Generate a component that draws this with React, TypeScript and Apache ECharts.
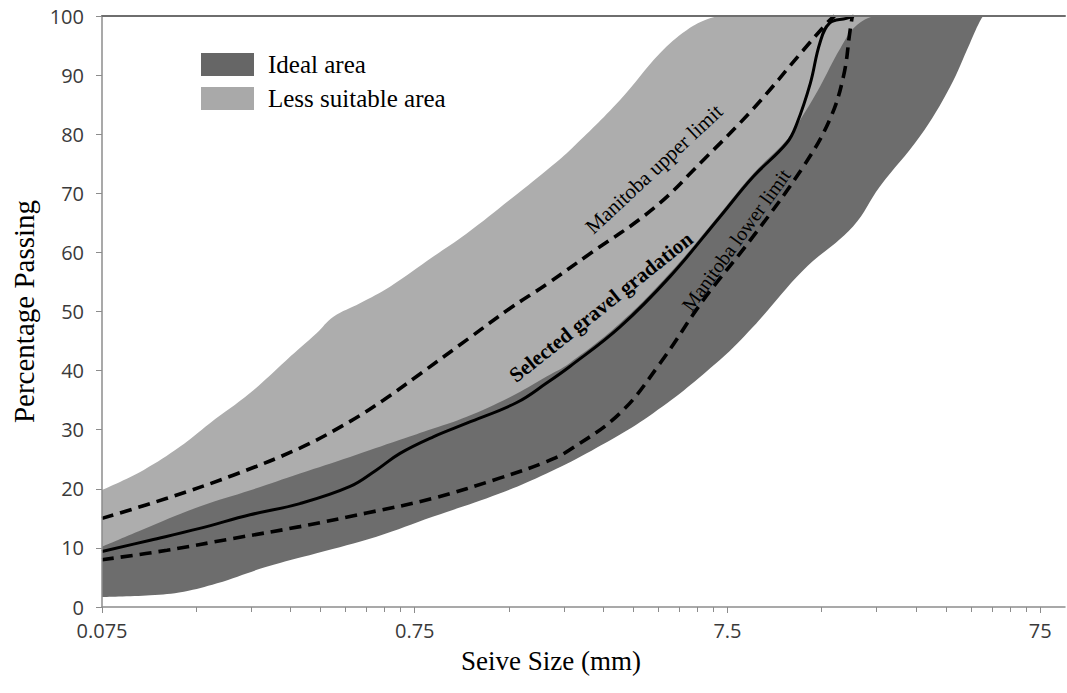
import React, { useEffect, useRef } from 'react';
import * as echarts from 'echarts';

const X_MIN = 0.075;
const X_MAX = 90;
const majorTicks = [0.075, 0.75, 7.5, 75];
const minorFactors = [2, 3, 4, 5, 6, 7, 8, 9];

// Less suitable area (upper boundary of the light band)
const lessSuitableX = [0.075, 0.102, 0.133, 0.166, 0.223, 0.292, 0.364, 0.412, 0.501, 0.625, 0.86, 1.1, 1.51, 1.98, 2.35, 3.4, 4.56, 5.55, 6.59, 7.3, 90];
const lessSuitableY = [19.8, 23.2, 27.1, 31.1, 36.2, 41.8, 46.3, 49.1, 51.4, 54.2, 59.3, 63.2, 68.9, 73.9, 77.3, 85.8, 93.7, 97.6, 99.6, 100, 100];

// Ideal area: upper boundary
const idealTopX = [0.075, 0.1, 0.154, 0.225, 0.322, 0.466, 0.673, 0.86, 1.1, 1.51, 1.98, 2.35, 3.4, 4.91, 7.09, 9.06, 11.6, 12.8, 14.8, 17.2, 19.5, 23, 90];
const idealTopY = [10.2, 13.0, 17.0, 19.8, 22.6, 25.4, 28.3, 30.2, 32.2, 35.5, 39.0, 41.3, 48.0, 56.5, 66.5, 73.3, 79.0, 82.4, 88.0, 94.5, 98.5, 100, 100];

// Ideal area: lower boundary
const idealBottomX = [0.075, 0.107, 0.137, 0.175, 0.252, 0.364, 0.566, 0.86, 1.4, 1.98, 2.66, 4.34, 7.09, 9.06, 13.1, 18.9, 23.0, 30.9, 38.6, 44.7, 48.7, 50, 90];
const idealBottomY = [1.7, 2.0, 2.6, 4.0, 6.8, 9.1, 11.9, 15.3, 19.2, 22.6, 26.0, 32.8, 41.8, 47.4, 57.0, 64.4, 71.1, 79.6, 88.0, 95.4, 99.6, 100, 100];

// Selected gravel gradation
const selectedX = [0.075, 0.107, 0.154, 0.223, 0.322, 0.466, 0.566, 0.673, 0.86, 1.1, 1.59, 1.98, 2.35, 3.4, 4.91, 7.09, 9.06, 11.6, 12.5, 13.8, 14.8, 15.9, 18.0, 19.0];
const selectedY = [9.4, 11.3, 13.3, 15.6, 17.5, 20.4, 23.2, 26.0, 28.8, 31.1, 34.6, 37.9, 40.7, 47.4, 55.9, 66.0, 72.8, 78.5, 81.8, 88.6, 95.4, 98.8, 99.6, 100];

// Manitoba upper limit
const upperLimitX = [0.075, 0.121, 0.197, 0.322, 0.466, 0.595, 0.76, 1.1, 1.51, 1.98, 2.66, 4.34, 6.27, 9.06, 13.1, 15.6, 16.5];
const upperLimitY = [15.0, 18.4, 22.3, 26.9, 31.4, 35.0, 39.0, 45.2, 50.5, 54.6, 59.4, 67.4, 75.6, 84.3, 94.2, 98.8, 100];

// Manitoba lower limit
const lowerLimitX = [0.075, 0.121, 0.197, 0.322, 0.526, 0.86, 1.4, 1.98, 2.35, 3.4, 4.56, 6.27, 9.06, 13.1, 15.9, 17.6, 18.5, 18.8];
const lowerLimitY = [8.0, 9.6, 11.6, 13.6, 15.9, 18.4, 21.8, 24.6, 26.6, 32.8, 41.2, 51.9, 62.7, 74.5, 82.4, 89.7, 97.6, 100];

const DARK = '#6d6d6d';
const LIGHT = '#adadad';
const SERIF = "'Liberation Serif', 'Times New Roman', serif";
const SANS = "'Open Sans', 'Liberation Sans', sans-serif";

const pairs = (xs: number[], ys: number[]) => xs.map((x, i) => [x, ys[i]]);

export default function App() {
  const ref = useRef<HTMLDivElement>(null);

  useEffect(() => {
    if (!ref.current) return;
    const chart = echarts.init(ref.current, undefined, { renderer: 'svg' });
    const minorTicks = majorTicks
      .slice(0, 3)
      .flatMap((d) => minorFactors.map((k) => Number((k * d).toPrecision(6))));

    const areaSeries = (name: string, xs: number[], ys: number[], color: string) => ({
      name,
      type: 'line',
      data: pairs(xs, ys),
      smooth: 0.4,
      symbol: 'none',
      silent: true,
      lineStyle: { width: 0, color },
      itemStyle: { color },
      areaStyle: { color, opacity: 1 },
      z: 1,
    });

    const curveSeries = (name: string, xs: number[], ys: number[], dashed: boolean) => ({
      name,
      type: 'line',
      data: pairs(xs, ys),
      smooth: 0.4,
      symbol: 'none',
      silent: true,
      lineStyle: dashed
        ? { width: 3.6, color: '#000', type: [12, 7], cap: 'butt' }
        : { width: 3, color: '#000' },
      itemStyle: { color: '#000' },
      z: 3,
    });

    chart.setOption({
      animation: false,
      backgroundColor: '#fff',
      grid: { left: 102, right: 2, top: 16, bottom: 86, containLabel: false },
      legend: {
        left: 201,
        top: 52,
        padding: 0,
        orient: 'vertical',
        icon: 'rect',
        itemWidth: 53,
        itemHeight: 23,
        itemGap: 9,
        selectedMode: false,
        textStyle: { fontFamily: SERIF, fontSize: 25, color: '#000', padding: [0, 0, 0, 9] },
        data: [
          { name: 'Ideal area', itemStyle: { color: '#666666' } },
          { name: 'Less suitable area', itemStyle: { color: '#a9a9a9' } },
        ],
      },
      xAxis: [
        {
          type: 'log',
          logBase: 10,
          position: 'bottom',
          min: X_MIN,
          max: X_MAX,
          z: 10,
          name: 'Seive Size (mm)',
          nameLocation: 'middle',
          nameGap: 40,
          nameTextStyle: { fontFamily: SERIF, fontSize: 27, color: '#000', padding: [0, 65, 0, 0] },
          axisLine: { show: true, onZero: false, lineStyle: { color: '#8c8c8c', width: 1.5 } },
          axisTick: { show: true, length: 6, customValues: majorTicks, lineStyle: { color: '#8c8c8c', width: 1 } },
          axisLabel: {
            show: true,
            customValues: majorTicks,
            margin: 13,
            fontFamily: SANS,
            fontSize: 20,
            color: '#3a3a3a',
            formatter: (v: number) => String(Number(v.toPrecision(4))),
          },
          splitLine: { show: false },
          minorTick: { show: false },
        },
        {
          type: 'log',
          logBase: 10,
          position: 'bottom',
          min: X_MIN,
          max: X_MAX,
          z: 10,
          axisLine: { show: false, onZero: false },
          axisTick: { show: true, length: 5, customValues: minorTicks, lineStyle: { color: '#8c8c8c', width: 1 } },
          axisLabel: { show: false },
          splitLine: { show: false },
        },
        {
          type: 'value',
          position: 'top',
          min: 0,
          max: 1,
          z: 10,
          axisLine: { show: true, onZero: false, lineStyle: { color: '#6e6e6e', width: 2 } },
          axisTick: { show: false },
          axisLabel: { show: false },
          splitLine: { show: false },
        },
      ],
      yAxis: {
        type: 'value',
        min: 0,
        max: 100,
        interval: 10,
        z: 10,
        name: 'Percentage Passing',
        nameLocation: 'middle',
        nameGap: 64,
        nameTextStyle: { fontFamily: SERIF, fontSize: 29, color: '#000' },
        axisLine: { show: true, lineStyle: { color: '#8c8c8c', width: 1.5 } },
        axisTick: { show: true, length: 6, lineStyle: { color: '#8c8c8c', width: 1 } },
        axisLabel: { margin: 18, fontFamily: SANS, fontSize: 20, color: '#3a3a3a' },
        splitLine: { show: false },
      },
      graphic: [
        {
          type: 'text',
          x: 654,
          y: 169,
          rotation: (43 * Math.PI) / 180,
          silent: true,
          z: 20,
          style: { text: 'Manitoba upper limit', fontFamily: SERIF, fontSize: 21, fill: '#000', align: 'center', verticalAlign: 'middle' },
        },
        {
          type: 'text',
          x: 601,
          y: 307,
          rotation: (38.5 * Math.PI) / 180,
          silent: true,
          z: 20,
          style: { text: 'Selected gravel gradation', fontFamily: SERIF, fontSize: 21, fontWeight: 'bold', fill: '#000', align: 'center', verticalAlign: 'middle' },
        },
        {
          type: 'text',
          x: 736,
          y: 240,
          rotation: (54 * Math.PI) / 180,
          silent: true,
          z: 20,
          style: { text: 'Manitoba lower limit', fontFamily: SERIF, fontSize: 20, fill: '#000', align: 'center', verticalAlign: 'middle' },
        },
      ],
      series: [
        areaSeries('Less suitable area', lessSuitableX, lessSuitableY, LIGHT),
        areaSeries('Ideal area', idealTopX, idealTopY, DARK),
        areaSeries('Outside', idealBottomX, idealBottomY, '#ffffff'),
        curveSeries('Manitoba upper limit', upperLimitX, upperLimitY, true),
        curveSeries('Manitoba lower limit', lowerLimitX, lowerLimitY, true),
        curveSeries('Selected gravel gradation', selectedX, selectedY, false),
      ],
    });

    return () => chart.dispose();
  }, []);

  return (
    <div
      ref={ref}
      style={{ position: 'fixed', left: 0, top: 0, width: 1067, height: 693, background: '#fff' }}
    />
  );
}
